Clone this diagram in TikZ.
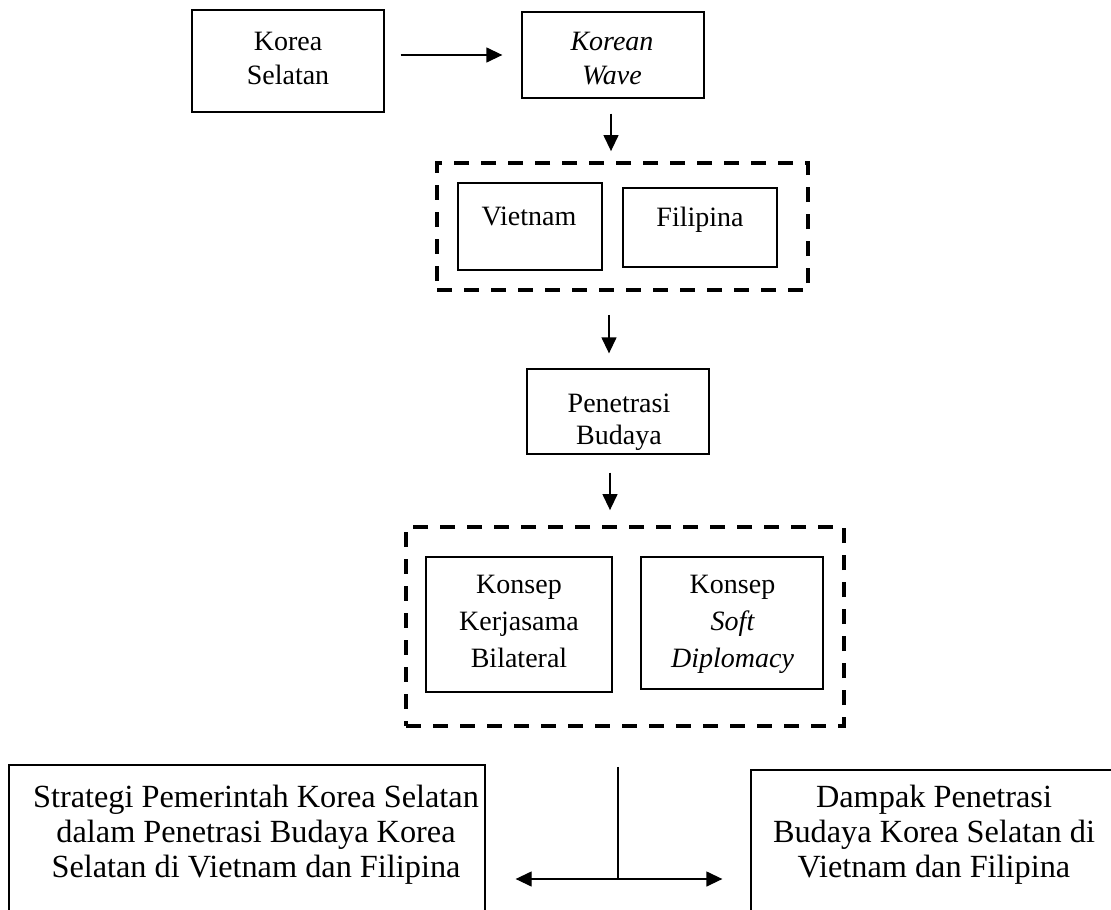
\documentclass[tikz,border=0pt]{standalone}
\usepackage{fontspec}
\setmainfont{Liberation Serif}
\usetikzlibrary{arrows.meta}
\begin{document}
\begin{tikzpicture}[x=1pt,y=-1pt,
  box/.style={draw, line width=1.3pt, inner sep=0pt},
  dbox/.style={draw, line width=3.8pt, dash pattern=on 15pt off 12pt, inner sep=0pt},
  txt/.style={align=center, inner sep=0pt, font=\fontsize{28}{34}\selectfont},
  txtc/.style={align=center, inner sep=0pt, font=\fontsize{28}{37}\selectfont},
  btxt/.style={align=center, inner sep=0pt, font=\fontsize{32.3}{35}\selectfont},
  arr/.style={line width=1.3pt, -{Triangle[length=16pt,width=15pt]}},
  ln/.style={line width=1.3pt},
  ]
\clip (0,0) rectangle (1111,910);
% boxes
\node[box, minimum width=192pt, minimum height=102pt] (ks) at (288,61) {};
\node[box, minimum width=182pt, minimum height=86pt] (kw) at (613,55) {};
\node[dbox, minimum width=371pt, minimum height=127pt] (d1) at (622.5,226.5) {};
\node[box, minimum width=144pt, minimum height=87pt] (vn) at (530,226.5) {};
\node[box, minimum width=154pt, minimum height=79pt] (fp) at (700,227.5) {};
\node[box, minimum width=182pt, minimum height=85pt] (pb) at (618,411.5) {};
\node[dbox, minimum width=438pt, minimum height=199pt] (d2) at (625,626.5) {};
\node[box, minimum width=186pt, minimum height=135pt] (kb) at (519,624.5) {};
\node[box, minimum width=182pt, minimum height=132pt] (sd) at (732,623) {};
\node[box, minimum width=476pt, minimum height=200pt] (st) at (247,865) {};
\node[box, minimum width=400pt, minimum height=200pt] (dp) at (951,870) {};
% texts
\node[txt] (ksT) at (288,58) {Korea\\Selatan};
\node[txt] (kwT) at (612,58.5) {\itshape Korean\\\itshape Wave};
\node[txt] (vnT) at (529,216) {Vietnam};
\node[txt] (fpT) at (700,220) {Filipina};
\node[txt, font=\fontsize{28}{32}\selectfont] (pbT) at (619,422) {Penetrasi\\Budaya};
\node[txtc] (kbT) at (519,621) {Konsep\\Kerjasama\\Bilateral};
\node[txtc] (sdT) at (732.5,624) {Konsep\\\itshape Soft\\\itshape Diplomacy};
\node[btxt] (stT) at (256,834.5) {Strategi Pemerintah Korea Selatan\\dalam Penetrasi Budaya Korea\\Selatan di Vietnam dan Filipina};
\node[btxt] (dpT) at (934,834.5) {Dampak Penetrasi\\Budaya Korea Selatan di\\Vietnam dan Filipina};
% connectors
\draw[arr] ([xshift=16pt]ks.east |- kw.west) -- ([xshift=-19pt]kw.west);
\draw[arr] ([xshift=-2pt,yshift=-15pt]kw.south) -- ([xshift=-2pt,yshift=10pt]kw.south |- d1.north);
\draw[arr] ([xshift=-9pt,yshift=-23pt]pb.north |- d1.south) -- ([xshift=-9pt,yshift=15pt]pb.north);
\draw[arr] ([xshift=-8pt,yshift=-18pt]pb.south) -- ([xshift=-8pt,yshift=15pt]pb.south |- d2.north);
\coordinate (j) at (618,879);
\draw[ln] ([yshift=-39pt]d2.south -| j) -- (j);
\draw[arr] (j) -- ([xshift=30pt]st.east |- j);
\draw[arr] (j) -- ([xshift=-28pt]dp.west |- j);
\end{tikzpicture}
\end{document}
